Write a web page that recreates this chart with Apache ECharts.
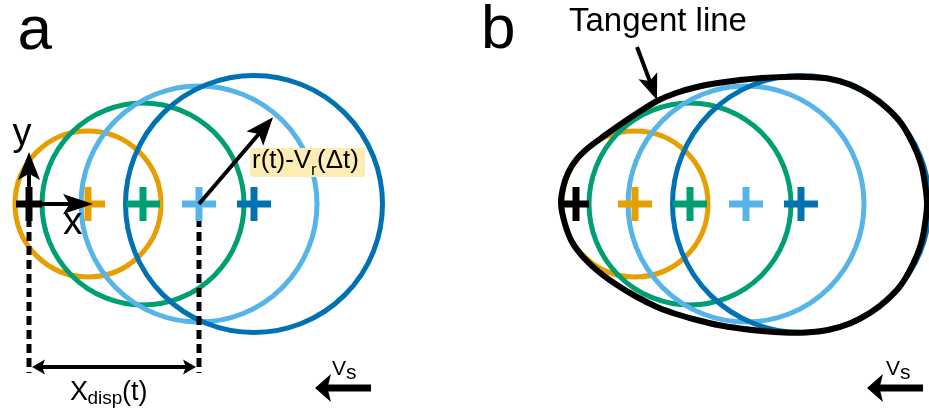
<!DOCTYPE html>
<html>
<head>
<meta charset="utf-8">
<script src="https://cdn.jsdelivr.net/npm/echarts@6/dist/echarts.min.js"></script>
<style>
  html, body { margin: 0; padding: 0; background: #ffffff; }
  #chart { width: 929px; height: 412px; }
</style>
</head>
<body>
<div id="chart"></div>
<script>
// Expanding wavefronts emitted by a source moving along x.
// Units: 1 unit = 1 mm, origin at the current source position.
const waveCentreX = [5.9, 11.4, 17.0, 22.5];     // centre of each wavefront
const waveRadius  = [7.3, 10.1, 11.8, 12.85];     // radius of each wavefront
const waveColors  = ['#E69F00', '#009E73', '#56B4E9', '#0072B2'];
const sourceColor = '#000000';

// Wavefront whose displacement X_disp(t) and radius are annotated in panel a
const annotatedWave = 2;
const radiusArrowAngle = 49.5;   // degrees above the x direction
const xArrowLength = 6.4;
const yArrowLength = 5.2;
const dispLineBottom = -16.9;
const dispArrowY = -16.3;

// Outline of the tangent line enclosing all wavefronts (panel b)
const envelopeX = [-1.5, -1.3, -0.8, 0.0, 1.2, 2.8, 4.5, 6.3, 8.1, 10.0, 12.1, 14.2, 16.4, 18.6, 20.8, 23.0,
                   25.2, 27.4, 29.4, 31.1, 32.5, 33.7, 34.5, 34.9, 35.1,
                   34.9, 34.5, 33.7, 32.5, 31.1, 29.4, 27.4, 25.2, 23.0, 20.8, 18.6, 16.4, 14.2, 12.1, 10.0,
                   8.1, 6.1, 4.1, 2.3, 0.8, -0.4, -1.1];
const envelopeY = [0, 1.6, 3.1, 4.4, 5.6, 6.8, 8.0, 9.2, 10.3, 11.1, 11.7, 12.1, 12.4, 12.6, 12.7, 12.7,
                   12.55, 11.95, 10.9, 9.6, 8.1, 6.0, 4.0, 2.0, 0,
                   -2.0, -4.0, -6.0, -8.1, -9.6, -10.9, -11.95, -12.6, -12.85, -12.85, -12.7, -12.45, -12.1, -11.6, -11.0,
                   -10.3, -9.3, -8.1, -6.8, -5.4, -3.8, -2.0];

// Source velocity arrows (tail -> tip) for each panel
const vsArrowA = [[34.2, -18.4], [28.6, -18.4]];
const vsArrowB = [[34.7, -18.4], [29.1, -18.4]];
// Pointer to the tangent line in panel b
const tangentPointer = [[6.1, 15.7], [8.1, 10.4]];

const FONT = '"Liberation Sans", Arial, Helvetica, sans-serif';

// ---- arrow drawing helper (pixel space) ----
function arrowGroup(p1, p2, s) {
  const dx = p2[0] - p1[0], dy = p2[1] - p1[1];
  const L = Math.hypot(dx, dy);
  const ux = dx / L, uy = dy / L, nx = -uy, ny = ux;
  const inset = s.inset || 0;
  const a = [p1[0] + ux * (s.both ? inset : 0), p1[1] + uy * (s.both ? inset : 0)];
  const b = [p2[0] - ux * inset, p2[1] - uy * inset];
  function head(tip, dirx, diry) {
    const bx = tip[0] - dirx * s.hl, by = tip[1] - diry * s.hl;
    const notch = [tip[0] - dirx * s.hl * 0.78, tip[1] - diry * s.hl * 0.78];
    return {
      type: 'polygon',
      shape: { points: [tip, [bx + nx * s.hw / 2, by + ny * s.hw / 2], notch, [bx - nx * s.hw / 2, by - ny * s.hw / 2]] },
      style: { fill: '#000' }
    };
  }
  const start = s.both ? [a[0] + ux * s.hl * 0.7, a[1] + uy * s.hl * 0.7] : a;
  const end = [b[0] - ux * s.hl * 0.7, b[1] - uy * s.hl * 0.7];
  const children = [{
    type: 'line',
    shape: { x1: start[0], y1: start[1], x2: end[0], y2: end[1] },
    style: { stroke: '#000', lineWidth: s.lw }
  }, head(b, ux, uy)];
  if (s.both) children.push(head(a, -ux, -uy));
  return { type: 'group', children: children };
}

// ---- series builders ----
function circleSeries(gi) {
  return {
    type: 'custom', xAxisIndex: gi, yAxisIndex: gi, clip: false,
    data: waveCentreX.map((x, i) => [x, 0, waveRadius[i]]),
    encode: { x: 0, y: 1 },
    renderItem: function (params, api) {
      const c = api.coord([api.value(0), api.value(1)]);
      const r = api.size([api.value(2), 0])[0];
      return {
        type: 'circle',
        shape: { cx: c[0], cy: c[1], r: r },
        style: { fill: 'none', stroke: waveColors[params.dataIndex], lineWidth: 5 }
      };
    }
  };
}

function plusSeries(gi) {
  const xs = [0].concat(waveCentreX);
  const cols = [sourceColor].concat(waveColors);
  return {
    type: 'custom', xAxisIndex: gi, yAxisIndex: gi, clip: false,
    data: xs.map(x => [x, 0]),
    encode: { x: 0, y: 1 },
    renderItem: function (params, api) {
      const p = api.coord([api.value(0), api.value(1)]);
      const hw = params.dataIndex === 0 ? 13 : 17, hh = 17;
      const c = cols[params.dataIndex];
      return {
        type: 'group', children: [
          { type: 'line', shape: { x1: p[0] - hw, y1: p[1], x2: p[0] + hw, y2: p[1] }, style: { stroke: c, lineWidth: 7 } },
          { type: 'line', shape: { x1: p[0], y1: p[1] - hh, x2: p[0], y2: p[1] + hh }, style: { stroke: c, lineWidth: 7 } }
        ]
      };
    }
  };
}

function arrowSeries(gi, arrows, styles) {
  return {
    type: 'custom', xAxisIndex: gi, yAxisIndex: gi, clip: false,
    data: arrows.map(a => [a[0][0], a[0][1], a[1][0], a[1][1]]),
    encode: { x: [0, 2], y: [1, 3] },
    renderItem: function (params, api) {
      const p1 = api.coord([api.value(0), api.value(1)]);
      const p2 = api.coord([api.value(2), api.value(3)]);
      return arrowGroup(p1, p2, styles[params.dataIndex]);
    }
  };
}

function dashedSeries(gi, xs) {
  return {
    type: 'custom', xAxisIndex: gi, yAxisIndex: gi, clip: false,
    data: xs.map(x => [x, 0, x, dispLineBottom]),
    encode: { x: [0, 2], y: [1, 3] },
    renderItem: function (params, api) {
      const p1 = api.coord([api.value(0), api.value(1)]);
      const p2 = api.coord([api.value(2), api.value(3)]);
      return {
        type: 'line',
        shape: { x1: p1[0], y1: p1[1], x2: p2[0], y2: p2[1] },
        style: { stroke: '#000', lineWidth: 5, lineDash: [9, 5] }
      };
    }
  };
}

function envelopeSeries(gi) {
  return {
    type: 'custom', xAxisIndex: gi, yAxisIndex: gi, clip: false,
    data: [[envelopeX[0], envelopeY[0]]],
    encode: { x: 0, y: 1 },
    renderItem: function (params, api) {
      const pts = envelopeX.map((x, i) => api.coord([x, envelopeY[i]]));
      return {
        type: 'polygon',
        shape: { points: pts, smooth: 0.25 },
        style: { fill: 'none', stroke: '#000', lineWidth: 6, lineJoin: 'round' }
      };
    }
  };
}

// ---- annotation geometry derived from the wavefront data ----
const aw = annotatedWave;
const ang = radiusArrowAngle * Math.PI / 180;
const rLen = waveRadius[aw] - 0.4;
const arrowsA = [
  [[0, 0], [0, yArrowLength]],
  [[0, 0], [xArrowLength, 0]],
  [[waveCentreX[aw], 0], [waveCentreX[aw] + rLen * Math.cos(ang), rLen * Math.sin(ang)]],
  [[0, dispArrowY], [waveCentreX[aw], dispArrowY]],
  vsArrowA
];
const arrowStylesA = [
  { lw: 4, hl: 28, hw: 22 },
  { lw: 4, hl: 30, hw: 20 },
  { lw: 4, hl: 28, hw: 22 },
  { lw: 4, hl: 13, hw: 15, both: true, inset: 3 },
  { lw: 7, hl: 16, hw: 28 }
];
const arrowsB = [tangentPointer, vsArrowB];
const arrowStylesB = [
  { lw: 4, hl: 26, hw: 20 },
  { lw: 7, hl: 16, hw: 28 }
];

// text helper: baseline-positioned text
function txt(text, x, baseline, size, extra) {
  return Object.assign({
    type: 'text', x: x, y: baseline - 0.3465 * size, z: 100,
    style: { text: text, font: size + 'px ' + FONT, fill: '#000', verticalAlign: 'middle', align: 'left' }
  }, extra || {});
}

const hiddenAxis = { show: false };

const option = {
  backgroundColor: '#ffffff',
  animation: false,
  grid: [
    { left: 0, top: 0, width: 460, height: 412 },
    { left: 460, top: 0, width: 469, height: 412 }
  ],
  xAxis: [
    Object.assign({ type: 'value', gridIndex: 0, min: -2.9, max: 43.1 }, hiddenAxis),
    Object.assign({ type: 'value', gridIndex: 1, min: -11.6, max: 35.3 }, hiddenAxis)
  ],
  yAxis: [
    Object.assign({ type: 'value', gridIndex: 0, min: -20.8, max: 20.4 }, hiddenAxis),
    Object.assign({ type: 'value', gridIndex: 1, min: -20.8, max: 20.4 }, hiddenAxis)
  ],
  series: [
    circleSeries(0),
    dashedSeries(0, [0, waveCentreX[aw]]),
    plusSeries(0),
    arrowSeries(0, arrowsA, arrowStylesA),
    circleSeries(1),
    envelopeSeries(1),
    plusSeries(1),
    arrowSeries(1, arrowsB, arrowStylesB)
  ],
  graphic: {
    elements: [
      txt('a', 17.5, 53, 62),
      txt('b', 481, 52, 62),
      txt('Tangent line', 569, 33, 33),
      txt('y', 12.5, 148, 38),
      txt('x', 63, 237, 39),
      // X_disp(t)
      txt('X', 70, 402, 27),
      txt('disp', 87.5, 405, 19),
      txt('(t)', 122, 402, 27),
      // r(t) - V_r(Δt) label with highlight box
      { type: 'rect', z: 99, shape: { x: 250, y: 148, width: 115, height: 29 }, style: { fill: '#FDEDB5' } },
      txt('r(t)-V', 252, 170, 26),
      txt('r', 311, 176, 17),
      txt('(\u0394t)', 317, 170, 26),
      // source velocity labels
      txt('V', 332, 376, 21),
      txt('s', 346, 380, 21),
      txt('V', 886, 376, 21),
      txt('s', 900, 380, 21)
    ]
  }
};

const chart = echarts.init(document.getElementById('chart'), null, { renderer: 'canvas' });
chart.setOption(option);
</script>
</body>
</html>
